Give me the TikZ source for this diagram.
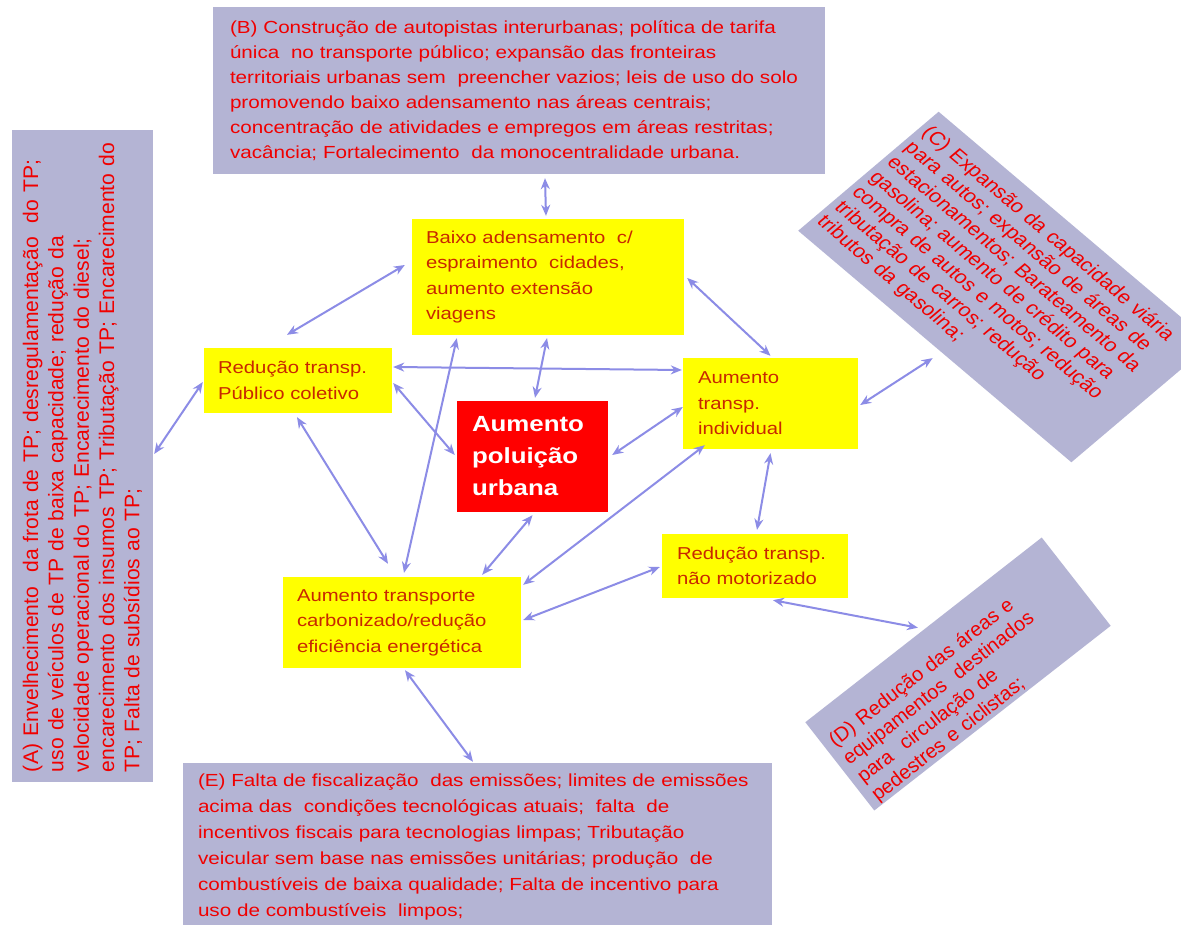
\documentclass[tikz,border=0pt]{standalone}
\usepackage{fontspec}
\setmainfont{Liberation Sans}
\newfontfamily\widefont{Liberation Sans}[FakeStretch=1.18]
\usetikzlibrary{arrows.meta}

\definecolor{causegray}{RGB}{180,180,212}
\definecolor{causered}{RGB}{240,0,0}
\definecolor{effectyellow}{RGB}{255,255,0}
\definecolor{effecttext}{RGB}{200,40,0}
\definecolor{pollutionred}{RGB}{255,0,0}
\definecolor{linkblue}{RGB}{140,140,230}

\tikzset{
  cause/.style={fill=causegray, text=causered, align=left, inner sep=0pt},
  effect/.style={fill=effectyellow, text=effecttext, align=left, inner sep=0pt,
    font=\widefont\fontsize{17.2}{25.5}\selectfont},
  link/.style={<->, draw=linkblue, line width=2pt}
}

\begin{document}
\begin{tikzpicture}[x=1pt,y=-1pt,>={Stealth[length=11pt,width=9pt]}]
    \path[use as bounding box, fill=white] (0,0) rectangle (1181,925);

    \node[cause, rotate=90, minimum width=652pt, minimum height=141pt, text width=632pt,
      font=\fontsize{21.1}{25.3}\selectfont] (A) at (82.5,456)
      {(A) Envelhecimento~ da frota de TP; desregulamentação~ do TP;\\
       uso de veículos de TP de baixa capacidade; redução da\\
       velocidade operacional do TP; Encarecimento do diesel;\\
       encarecimento dos insumos TP; Tributação TP; Encarecimento do\\
       TP; Falta de subsídios ao TP;};
    \node[cause, minimum width=612pt, minimum height=167pt, text width=578pt,
      font=\widefont\fontsize{17.5}{25}\selectfont] (B) at (519,90.5)
      {(B) Construção de autopistas interurbanas; política de tarifa\\
       única~ no transporte público; expansão das fronteiras\\
       territoriais urbanas sem~ preencher vazios; leis de uso do solo\\
       promovendo baixo adensamento nas áreas centrais;\\
       concentração de atividades e empregos em áreas restritas;\\
       vacância; Fortalecimento~ da monocentralidade urbana.};
    \node[cause, xscale=1.18, rotate=-45, minimum width=327.4pt, minimum height=168.3pt,
      text width=317pt, font=\fontsize{18.6}{21}\selectfont] (C) at (1005,287)
      {(C) Expansão da capacidade viária\\
       para autos; expansão de áreas de\\
       estacionamentos; Barateamento da\\
       gasolina; aumento de crédito para\\
       compra de autos e motos; redução\\
       tributação de carros; redução\\
       tributos da gasolina;};
    \node[cause, rotate=38, minimum width=300pt, minimum height=112pt, text width=284pt,
      text height=38pt, font=\fontsize{20}{23}\selectfont] (D) at (958,674)
      {(D) Redução das áreas e\\
       equipamentos~ destinados\\
       para~ circulação de\\
       pedestres e ciclistas;};
    \node[cause, minimum width=589pt, minimum height=167pt, text width=559pt,
      font=\widefont\fontsize{17.5}{26}\selectfont] (E) at (477.5,846.5)
      {(E) Falta de fiscalização~ das emissões; limites de emissões\\
       acima das~ condições tecnológicas atuais;~ falta~ de\\
       incentivos fiscais para tecnologias limpas; Tributação\\
       veicular sem base nas emissões unitárias; produção~ de\\
       combustíveis de baixa qualidade; Falta de incentivo para\\
       uso de combustíveis~ limpos;};

    \node[effect, minimum width=272pt, minimum height=116pt, text width=244pt] (baixo) at (548,277)
      {Baixo adensamento~ c/\\espraimento~ cidades,\\aumento extensão\\viagens};
    \node[effect, minimum width=188pt, minimum height=65pt, text width=160pt] (publico) at (298,380.5)
      {Redução transp.\\Público coletivo};
    \node[fill=pollutionred, text=white, align=left, inner sep=0pt, minimum width=151pt,
      minimum height=111pt, text width=121pt,
      font=\widefont\bfseries\fontsize{21.9}{32}\selectfont] (poluicao) at (532.5,456.5)
      {Aumento\\poluição\\urbana};
    \node[effect, minimum width=175pt, minimum height=91pt, text width=145pt] (individual) at (770.5,403.5)
      {Aumento\\transp.\\individual};
    \node[effect, minimum width=186pt, minimum height=64pt, text width=156pt] (naomot) at (755,566)
      {Redução transp.\\não motorizado};
    \node[effect, minimum width=238pt, minimum height=91pt, text width=210pt] (carbono) at (402,622.5)
      {Aumento transporte\\carbonizado/redução\\eficiência energética};

    \draw[link] ([xshift=26pt,yshift=-4pt]B.south) -- ([xshift=-2pt,yshift=3pt]baixo.north);
    \draw[link] ([xshift=-7pt,yshift=12pt]baixo.west) -- ([xshift=-11pt,yshift=13pt]publico.north);
    \draw[link] ([xshift=1pt,yshift=2pt]A.south) -- ([xshift=-1pt,yshift=-1.5pt]publico.west);
    \draw[link] ([xshift=1pt,yshift=13.5pt]publico.east) -- ([xshift=-1pt,yshift=33.5pt]individual.west);
    \draw[link] ([xshift=1pt,yshift=-2.5pt]publico.east) -- ([xshift=-2pt,yshift=1.5pt]poluicao.west);
    \draw[link] ([xshift=-1pt,yshift=-4pt]publico.south) -- ([xshift=-14pt,yshift=13pt]carbono.north);
    \draw[link] ([xshift=45pt,yshift=-3pt]baixo.south west) -- ([xshift=2pt,yshift=4pt]carbono.north);
    \draw[link] ([xshift=-1pt,yshift=-3pt]baixo.south) -- ([xshift=2.5pt,yshift=3pt]poluicao.north);
    \draw[link] ([xshift=3pt,yshift=-1pt]baixo.east) -- ([yshift=2pt]individual.north);
    \draw[link] ([xshift=4pt,yshift=1.5pt]poluicao.east) -- ([yshift=-3.5pt]individual.west);
    \draw[link] ([xshift=22pt,yshift=4pt]individual.south west) -- ([xshift=2pt,yshift=-8pt]carbono.north east);
    \draw[link] ([yshift=-4pt]individual.south) -- ([xshift=2pt,yshift=4pt]naomot.north);
    \draw[link] ([xshift=-2pt,yshift=-1pt]naomot.west) -- ([xshift=2pt,yshift=2.5pt]carbono.east);
    \draw[link] ([yshift=-3pt]poluicao.south) -- ([xshift=-39pt,yshift=2pt]carbono.north east);
    \draw[link] ([xshift=3pt,yshift=-2pt]carbono.south) -- ([xshift=-4.5pt,yshift=1pt]E.north);
    \draw[link] ([xshift=2pt,yshift=-1.5pt]individual.east) -- ([xshift=-2pt,yshift=-11.5pt]C.south);
    \draw[link] ([xshift=18pt,yshift=-2pt]naomot.south) -- ([xshift=-5.5pt,yshift=2pt]D.north);
\end{tikzpicture}
\end{document}
